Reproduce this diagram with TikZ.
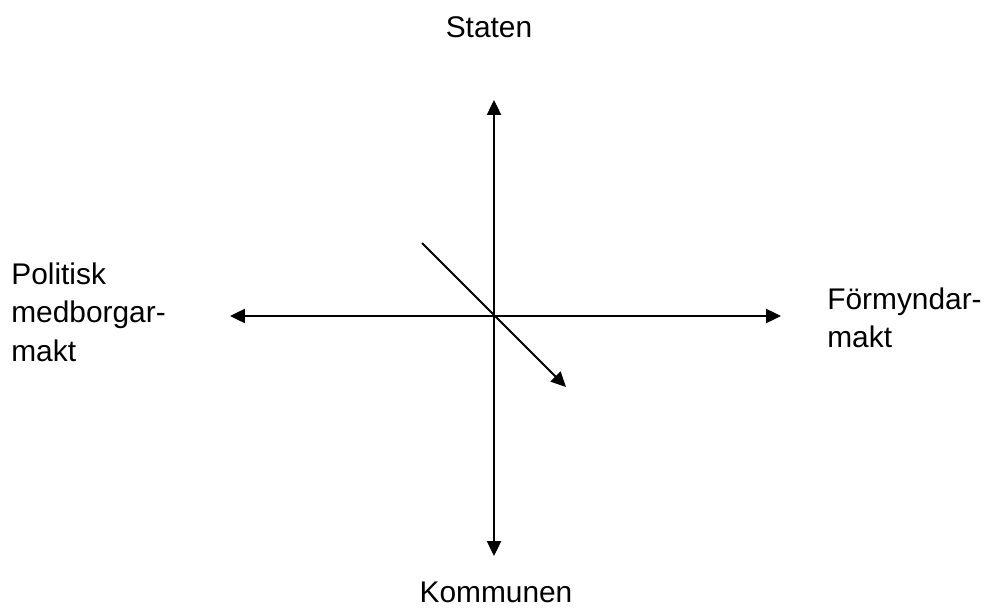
\documentclass[tikz,border=0pt]{standalone}
\usepackage{fontspec}
\setmainfont{Liberation Sans}
\usetikzlibrary{arrows.meta}
\tikzset{
  axis/.style={line width=1.15pt,{Triangle[length=8.5pt,width=8pt]}-{Triangle[length=8.5pt,width=8pt]}},
  tilt/.style={line width=1.15pt,-{Triangle[length=8.5pt,width=8pt]}},
  lbl/.style={inner sep=0pt,font=\fontsize{17}{22}\selectfont}
}
\begin{document}
\begin{tikzpicture}[x=0.02cm,y=-0.02cm]
  \useasboundingbox (0,0) rectangle (995,609);
  \coordinate (o) at (494,316);
  \coordinate (top) at (494,100);
  \coordinate (bot) at (494,556);
  \coordinate (lft) at (230,316);
  \coordinate (rgt) at (781,316);
  \coordinate (d1) at (422,243);
  \coordinate (d2) at (566,387);
  \draw[axis] (top) -- (bot);
  \draw[axis] (lft) -- (rgt);
  \draw[tilt] (d1) -- (d2);
  \node[lbl,anchor=base] (staten) at (489,37) {Staten};
  \node[lbl,anchor=base] (kommunen) at (496,602) {Kommunen};
  \node[lbl,anchor=north west,align=left] (politisk) at (11,262) {Politisk\\medborgar-\\makt};
  \node[lbl,anchor=north west,align=left] (formyndar) at (827,287) {Förmyndar-\\makt};
\end{tikzpicture}
\end{document}
